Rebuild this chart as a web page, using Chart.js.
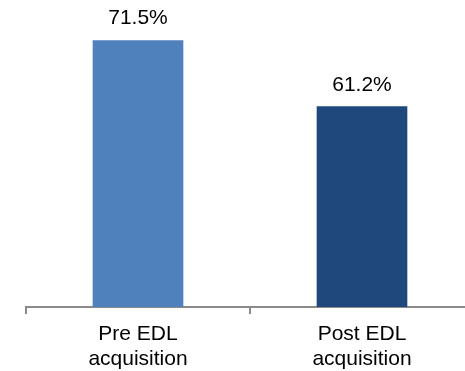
<!DOCTYPE html>
<html>
<head>
<meta charset="utf-8">
<script src="https://cdn.jsdelivr.net/npm/chart.js@4.4.1/dist/chart.umd.min.js"></script>
<style>
  html, body { margin: 0; padding: 0; background: #fff; overflow: hidden; }
  #wrap { position: absolute; left: 0; top: 0; width: 480px; height: 371px; }
</style>
</head>
<body>
<div id="wrap"><canvas id="c" width="480" height="371"></canvas></div>
<script>
const categories = [['Pre EDL', 'acquisition'], ['Post EDL', 'acquisition']];
const values = [71.5, 61.2];
const barColors = ['#4F81BD', '#1F497D'];

const FONT = '"Liberation Sans", Arial, sans-serif';

// Percentage label drawn above each bar
const valueLabels = {
  id: 'valueLabels',
  afterDatasetsDraw(chart) {
    const { ctx } = chart;
    const meta = chart.getDatasetMeta(0);
    ctx.save();
    ctx.font = '21px ' + FONT;
    ctx.fillStyle = '#000';
    ctx.textAlign = 'center';
    ctx.textBaseline = 'alphabetic';
    meta.data.forEach((bar, i) => {
      ctx.fillText(values[i].toFixed(1) + '%', bar.x, bar.y - 16);
    });
    ctx.restore();
  }
};

new Chart(document.getElementById('c'), {
  type: 'bar',
  data: {
    labels: categories,
    datasets: [{
      data: values,
      backgroundColor: barColors,
      borderWidth: 0,
      barThickness: 90
    }]
  },
  options: {
    responsive: false,
    animation: false,
    devicePixelRatio: 1,
    layout: { padding: { left: 26, right: 6, top: 18, bottom: 0 } },
    plugins: { legend: { display: false }, tooltip: { enabled: false } },
    scales: {
      x: {
        offset: true,
        grid: {
          offset: true,
          display: true,
          drawOnChartArea: false,
          drawTicks: true,
          tickLength: 7,
          color: '#8a8a8a',
          lineWidth: 2
        },
        border: { display: true, color: '#8a8a8a', width: 2 },
        ticks: {
          color: '#000',
          font: { family: FONT, size: 21, lineHeight: 1.17 },
          padding: 8,
          maxRotation: 0
        },
        afterFit(scale) { scale.height = 64; }
      },
      y: {
        display: false,
        min: 30,
        max: 75
      }
    }
  },
  plugins: [valueLabels]
});
</script>
</body>
</html>
